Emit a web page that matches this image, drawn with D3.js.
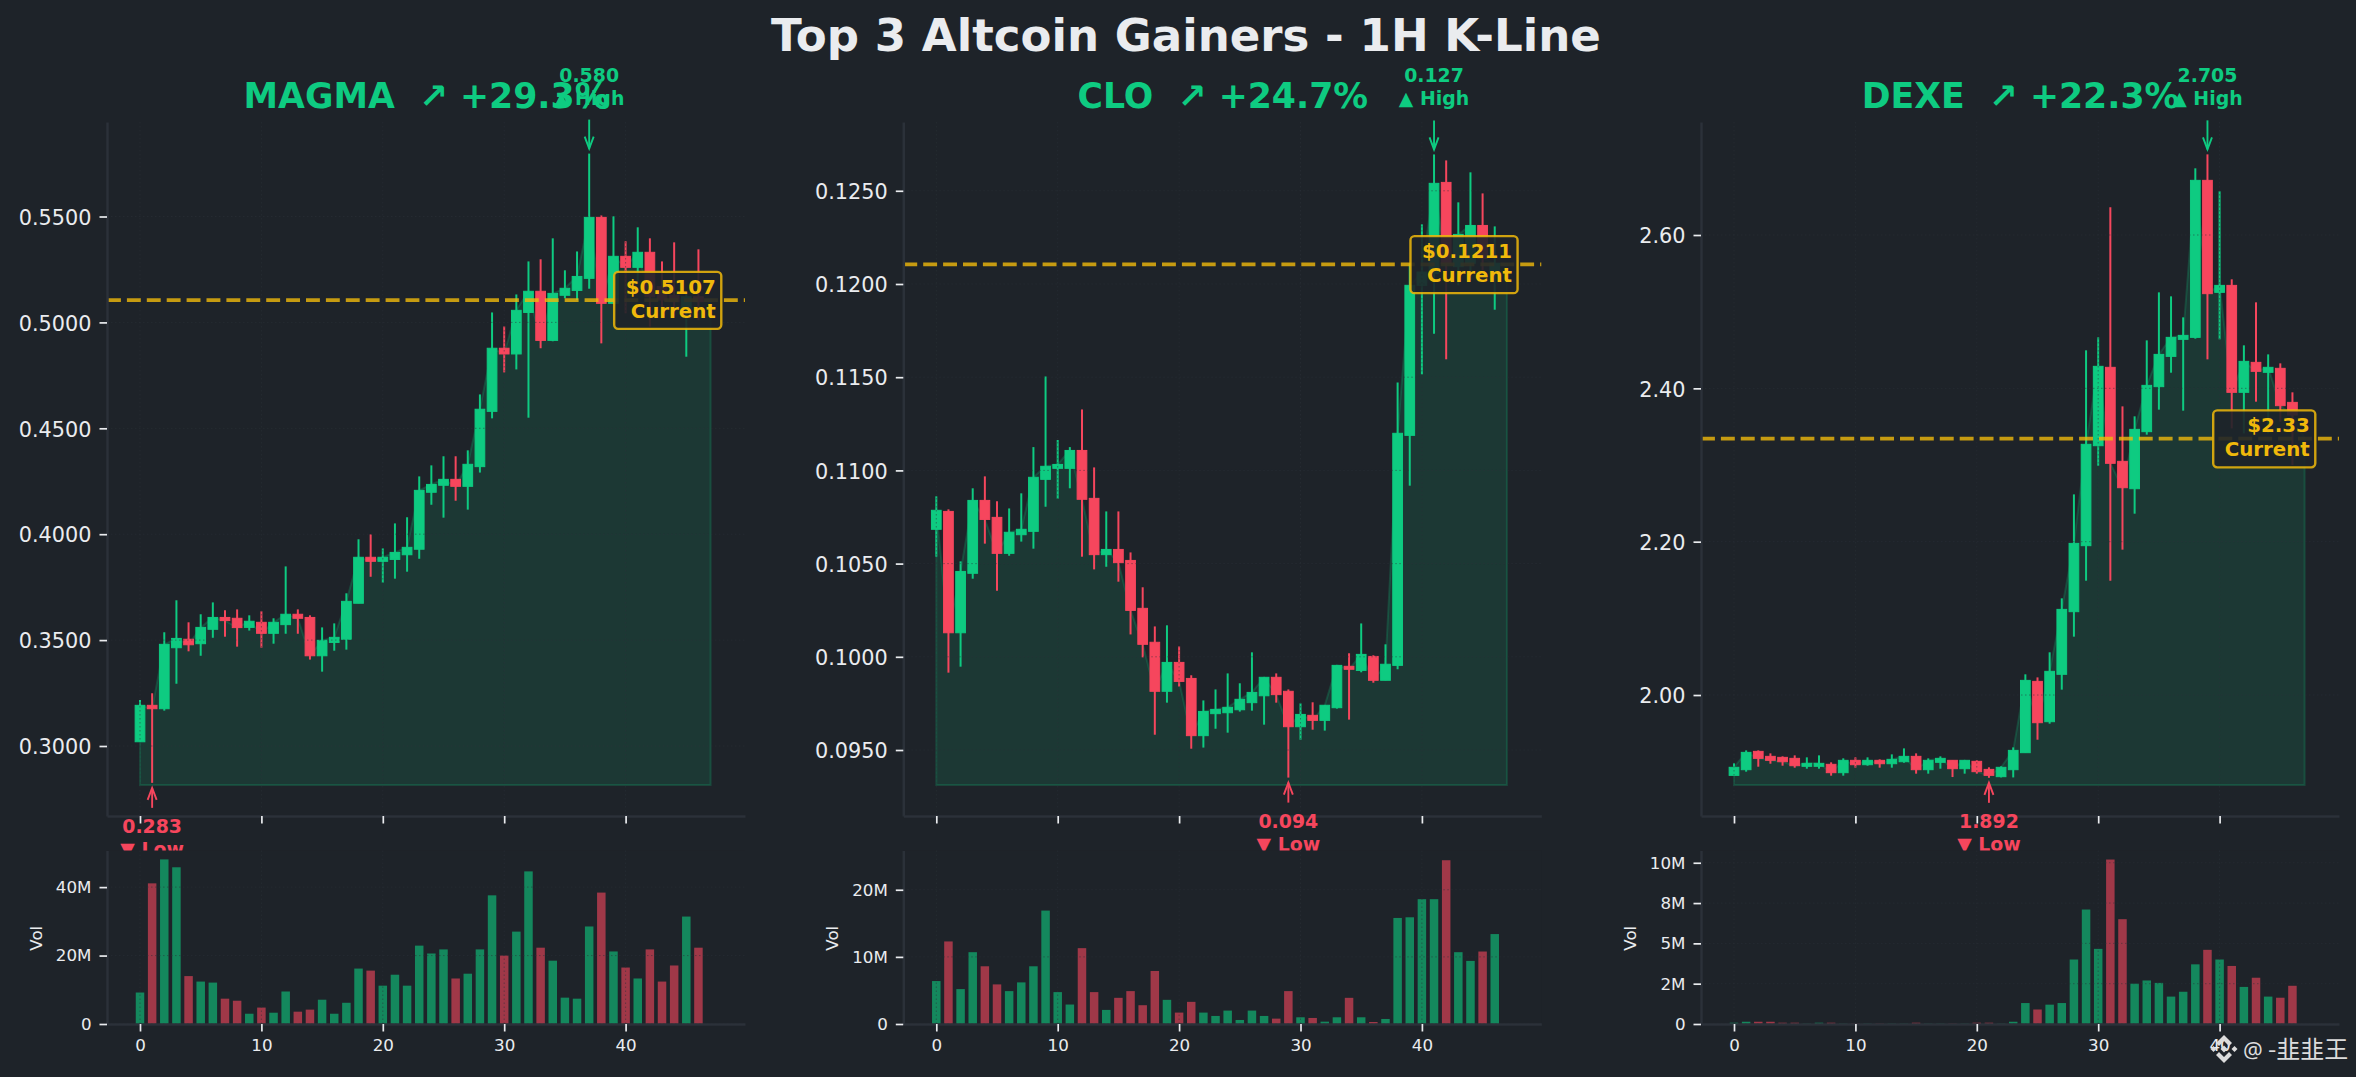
<!DOCTYPE html>
<html>
<head>
<meta charset="utf-8">
<script src="https://d3js.org/d3.v7.min.js"></script>
<style>
  html, body { margin: 0; padding: 0; background: #1e2329; overflow: hidden; }
  svg { display: block; font-family: "DejaVu Sans", sans-serif; }
</style>
</head>
<body>
<script>
// MAGMA candles
const magmaOpen = [.3020,.3192,.3176,.3464,.3504,.3483,.3551,.3607,.3603,.3560,.3584,.3532,.3573,.3622,.3607,.3426,.3489,.3504,.3674,.3891,.3872,.3881,.3903,.3929,.4198,.4231,.4259,.4226,.4319,.4580,.4878,.4851,.5047,.5147,.4915,.5128,.5151,.5208,.5496,.5090,.5312,.5260,.5331,.5169,.5128,.5066,.5121];
const magmaHigh = [.3217,.3249,.3537,.3688,.3584,.3622,.3678,.3641,.3645,.3617,.3636,.3603,.3848,.3645,.3617,.3560,.3579,.3721,.3976,.3999,.3933,.4051,.4080,.4273,.4325,.4368,.4368,.4396,.4660,.5047,.4981,.5132,.5288,.5298,.5397,.5246,.5335,.5797,.5505,.5501,.5383,.5449,.5397,.5288,.5378,.5137,.5345];
const magmaLow = [.3020,.2826,.3167,.3294,.3447,.3426,.3511,.3516,.3469,.3545,.3464,.3483,.3530,.3530,.3408,.3351,.3450,.3455,.3674,.3799,.3771,.3790,.3823,.3884,.4139,.4078,.4158,.4116,.4291,.4547,.4764,.4778,.4550,.4878,.4911,.5114,.5106,.5159,.4901,.5090,.5043,.5184,.4980,.5043,.5027,.4838,.5011];
const magmaClose = [.3192,.3176,.3480,.3508,.3478,.3560,.3607,.3592,.3559,.3589,.3532,.3584,.3622,.3603,.3426,.3499,.3513,.3683,.3891,.3872,.3891,.3914,.3938,.4207,.4235,.4259,.4226,.4330,.4590,.4878,.4851,.5057,.5147,.4915,.5137,.5161,.5217,.5496,.5090,.5312,.5260,.5331,.5121,.5106,.5098,.5121,.5098];
const magmaVol = [9.2,41.1,48.1,45.8,14.0,12.4,12.1,7.4,6.8,3.0,4.8,3.3,9.5,3.6,4.2,7.1,3.0,6.2,16.2,15.6,11.2,14.4,11.2,22.9,20.6,21.8,13.3,14.7,21.8,37.6,20.0,27.0,44.6,22.3,18.5,7.7,7.4,28.5,38.4,21.2,16.5,13.3,21.8,12.4,17.1,31.4,22.3];

// CLO candles
const cloOpen = [.10684,.10780,.10129,.10448,.10839,.10748,.10555,.10655,.10673,.10952,.11011,.11011,.11107,.10850,.10548,.10576,.10517,.10260,.10078,.09815,.09970,.09884,.09577,.09695,.09700,.09716,.09754,.09791,.09890,.09815,.09625,.09686,.09659,.09727,.09949,.09927,.10002,.09874,.09954,.11188,.11993,.12057,.12545,.12093,.12111,.12314,.12057];
const cloHigh = [.10861,.10791,.10512,.10904,.10968,.10834,.10796,.10877,.11125,.11504,.11163,.11125,.11327,.11016,.10780,.10780,.10560,.10373,.10163,.10169,.10056,.09901,.09766,.09825,.09911,.09858,.10024,.09890,.09911,.09825,.09750,.09756,.09740,.09954,.10019,.10179,.10008,.10067,.11472,.12111,.12320,.12695,.12663,.12438,.12599,.12486,.12309];
const cloLow = [.10537,.09915,.09947,.10419,.10607,.10355,.10542,.10618,.10580,.10805,.10848,.10904,.10537,.10469,.10483,.10403,.10120,.09997,.09582,.09754,.09840,.09507,.09513,.09614,.09593,.09706,.09711,.09636,.09754,.09352,.09555,.09609,.09604,.09722,.09663,.09917,.09861,.09874,.09933,.10918,.11515,.11733,.11596,.11993,.12021,.12075,.11862];
const cloClose = [.10786,.10129,.10458,.10839,.10737,.10555,.10668,.10684,.10963,.11022,.11032,.11107,.10845,.10548,.10576,.10505,.10249,.10067,.09815,.09970,.09868,.09577,.09707,.09718,.09729,.09772,.09809,.09890,.09797,.09625,.09691,.09659,.09740,.09954,.09933,.10013,.09874,.09960,.11199,.11993,.12064,.12540,.12111,.12266,.12314,.12137,.12111];
const cloVol = [6.4,12.3,5.2,10.7,8.6,5.9,4.9,6.2,8.6,16.9,4.75,2.9,11.3,4.75,2.1,3.9,4.9,2.8,7.9,3.6,1.7,3.3,1.7,1.2,2.0,0.6,2.0,1.2,0.8,4.9,1.0,0.9,0.35,1.0,3.9,1.0,0.3,0.75,15.8,15.9,18.6,18.6,24.4,10.7,9.4,10.8,13.4];

// DEXE candles
const dexeOpen = [1.8952,1.9026,1.9265,1.9200,1.9187,1.9174,1.9070,1.9070,1.9096,1.8987,1.9148,1.9091,1.9148,1.9104,1.9130,1.9200,1.9026,1.9122,1.9148,1.9039,1.9135,1.9030,1.8935,1.9026,1.9248,2.0178,1.9652,2.0270,2.1087,2.1948,2.3252,2.4274,2.3048,2.2691,2.3435,2.4022,2.4417,2.4639,2.4665,2.6713,2.5252,2.5343,2.3948,2.4339,2.4209,2.4261,2.3817];
const dexeHigh = [1.9109,1.9278,1.9278,1.9239,1.9200,1.9213,1.9187,1.9213,1.9122,1.9174,1.9187,1.9187,1.9161,1.9226,1.9304,1.9239,1.9174,1.9200,1.9148,1.9148,1.9148,1.9057,1.9070,1.9317,2.0270,2.0230,2.0557,2.1261,2.2617,2.4496,2.4665,2.6361,2.3765,2.3635,2.4626,2.5252,2.5200,2.4926,2.6870,2.7052,2.6570,2.5422,2.4561,2.5122,2.4443,2.4326,2.3948];
const dexeLow = [1.8952,1.9000,1.9065,1.9104,1.9078,1.9052,1.9039,1.9039,1.8948,1.8948,1.9052,1.9078,1.9052,1.9052,1.9117,1.8974,1.8974,1.9039,1.8930,1.8974,1.8974,1.8920,1.8925,1.8925,1.9248,1.9417,1.9626,2.0070,2.0761,2.1491,2.2991,2.1491,2.1896,2.2365,2.3396,2.3722,2.4204,2.3709,2.4648,2.4378,2.4639,2.3478,2.3413,2.3826,2.3413,2.3565,2.3000];
const dexeClose = [1.9057,1.9252,1.9174,1.9148,1.9130,1.9078,1.9109,1.9109,1.8987,1.9148,1.9091,1.9148,1.9104,1.9161,1.9200,1.9026,1.9148,1.9174,1.9039,1.9148,1.9000,1.8952,1.9057,1.9278,2.0191,1.9639,2.0309,2.1117,2.1978,2.3270,2.4287,2.3022,2.2704,2.3465,2.4039,2.4443,2.4665,2.4691,2.6713,2.5235,2.5343,2.3948,2.4352,2.4222,2.4274,2.3774,2.3652];
const dexeVol = [0.08,0.14,0.14,0.14,0.08,0.08,0.02,0.08,0.08,0.02,0.02,0.02,0.02,0.02,0.02,0.08,0.02,0.02,0.02,0.02,0.08,0.08,0.02,0.14,1.3,0.9,1.2,1.3,4.0,7.1,4.66,10.2,6.5,2.5,2.7,2.55,1.7,2.0,3.7,4.6,4.0,3.6,2.3,2.87,1.7,1.63,2.37];

const symbols = ["MAGMA", "CLO", "DEXE"];
const gains = ["+29.3%", "+24.7%", "+22.3%"];
const currents = [0.5107, 0.12107, 2.3349];
const currentLabels = ["$0.5107", "$0.1211", "$2.33"];
const highIndex = [37, 41, 39];
const lowIndex = [1, 29, 21];
const fillFloors = [0.2816, 0.09312, 1.8826];

const priceDomains = [[0.26695, 0.59462], [0.09146, 0.12869], [1.8422, 2.7474]];
const priceTicks = [[0.30, 0.35, 0.40, 0.45, 0.50, 0.55], [0.095, 0.100, 0.105, 0.110, 0.115, 0.120, 0.125], [2.00, 2.20, 2.40, 2.60]];
const priceDecimals = [4, 4, 2];
const volMax = [50.7, 25.85, 10.76];
const volTicks = [[0, 20, 40], [0, 10, 20], [0, 2.5, 5, 7.5, 10]];
const volTickLabels = [["0", "20M", "40M"], ["0", "10M", "20M"], ["0", "2M", "5M", "8M", "10M"]];
const xTicks = [0, 10, 20, 30, 40];

const opens = [magmaOpen, cloOpen, dexeOpen];
const highs = [magmaHigh, cloHigh, dexeHigh];
const lows = [magmaLow, cloLow, dexeLow];
const closes = [magmaClose, cloClose, dexeClose];
const vols = [magmaVol, cloVol, dexeVol];

const BG = "#1e2329", GREEN = "#0ecb81", RED = "#f6465d", GOLD = "#f0b90b", SPINE = "#2b3139", INK = "#eaecef";

const panelLeft = [107, 903.3, 1701];
const panelWidth = 638;
const mainTop = 122, mainBottom = 816, volTop = 850.5, volBottom = 1024;
const xMin = -33 / 12.14, xMax = xMin + panelWidth / 12.14;

const svg = d3.select("body").append("svg").attr("width", 2356).attr("height", 1077);
svg.append("rect").attr("width", 2356).attr("height", 1077).attr("fill", BG);

svg.append("text")
  .attr("x", 1186).attr("y", 51)
  .attr("text-anchor", "middle")
  .attr("font-size", 45.1).attr("font-weight", "bold").attr("fill", INK)
  .text("Top 3 Altcoin Gainers - 1H K-Line");

function styleAxis(g, size) {
  g.select(".domain").attr("stroke", SPINE).attr("stroke-width", 2.5);
  g.selectAll(".tick line").attr("stroke", INK).attr("stroke-width", 1.7);
  g.selectAll(".tick text").attr("fill", INK).attr("font-size", size).attr("font-family", "DejaVu Sans");
}

function arrow(g, x, y0, y1, color) {
  // y1 is the tip
  const dir = y1 > y0 ? -1 : 1;
  g.append("line").attr("x1", x).attr("x2", x).attr("y1", y0).attr("y2", y1).attr("stroke", color).attr("stroke-width", 1.9);
  g.append("path")
    .attr("d", d3.line()([[x - 4.5, y1 + dir * 12], [x, y1], [x + 4.5, y1 + dir * 12]]))
    .attr("fill", "none").attr("stroke", color).attr("stroke-width", 1.9);
}

symbols.forEach((sym, p) => {
  const left = panelLeft[p], right = left + panelWidth;
  const x = d3.scaleLinear().domain([xMin, xMax]).range([left, right]);
  const y = d3.scaleLinear().domain(priceDomains[p]).range([mainBottom, mainTop]);
  const yv = d3.scaleLinear().domain([0, volMax[p]]).range([volBottom, volTop]);

  const candles = d3.range(opens[p].length).map(i => ({
    i, o: opens[p][i], h: highs[p][i], l: lows[p][i], c: closes[p][i], v: vols[p][i]
  }));
  const tone = d => d.c >= d.o ? GREEN : RED;
  const main = svg.append("g");

  // shaded area under closes, runs on to the live price
  const fillPts = closes[p].concat([currents[p]]);
  main.append("path")
    .datum(fillPts)
    .attr("d", d3.area().x((d, i) => x(i)).y0(y(fillFloors[p])).y1(d => y(d)))
    .attr("fill", GREEN).attr("fill-opacity", 0.13)
    .attr("stroke", GREEN).attr("stroke-opacity", 0.2).attr("stroke-width", 2);

  main.selectAll("line.wick").data(candles).join("line").attr("class", "wick")
    .attr("x1", d => x(d.i)).attr("x2", d => x(d.i))
    .attr("y1", d => y(d.h)).attr("y2", d => y(d.l))
    .attr("stroke", tone).attr("stroke-width", 2);

  const bodyW = x(0.8) - x(0);
  main.selectAll("rect.body").data(candles).join("rect").attr("class", "body")
    .attr("x", d => x(d.i) - bodyW / 2).attr("width", bodyW)
    .attr("y", d => y(Math.max(d.o, d.c)))
    .attr("height", d => Math.abs(y(d.o) - y(d.c)))
    .attr("fill", tone).attr("stroke", tone).attr("stroke-width", 1);

  // faint dotted grid, sits over the candles
  const grid = main.append("g").attr("stroke", SPINE).attr("stroke-opacity", 0.5).attr("stroke-dasharray", "1.5 2.5").attr("stroke-width", 1);
  grid.selectAll("line.gx").data(xTicks).join("line").attr("x1", x).attr("x2", x).attr("y1", mainTop).attr("y2", mainBottom);
  grid.selectAll("line.gy").data(priceTicks[p]).join("line").attr("x1", left).attr("x2", right).attr("y1", y).attr("y2", y);

  main.append("line")
    .attr("x1", left).attr("x2", right).attr("y1", y(currents[p]) + 0.4).attr("y2", y(currents[p]) + 0.4)
    .attr("stroke", GOLD).attr("stroke-opacity", 0.8).attr("stroke-width", 3.7).attr("stroke-dasharray", "13.9 6");

  const yAxis = main.append("g").attr("transform", `translate(${left},0)`)
    .call(d3.axisLeft(y).tickValues(priceTicks[p]).tickFormat(d => d.toFixed(priceDecimals[p])).tickSize(7.5).tickPadding(8).tickSizeOuter(0));
  styleAxis(yAxis, 20.8);
  yAxis.selectAll(".tick text").attr("dy", "0.37em");
  const xAxis = main.append("g").attr("transform", `translate(0,${mainBottom})`)
    .call(d3.axisBottom(x).tickValues(xTicks).tickFormat("").tickSize(7.5).tickSizeOuter(0));
  styleAxis(xAxis, 16.7);

  svg.append("text")
    .attr("x", (left + right) / 2 + 0.5).attr("y", 108)
    .attr("text-anchor", "middle").attr("font-size", 34.7).attr("font-weight", "bold")
    .attr("fill", GREEN).style("white-space", "pre")
    .text(`${sym}  \u2197 ${gains[p]}`);

  // high / low callouts
  const hi = highIndex[p], lo = lowIndex[p];
  const yHi = y(highs[p][hi]), yLo = y(lows[p][lo]);
  arrow(svg, x(hi), yHi - 34, yHi - 5, GREEN);
  svg.append("text").attr("x", x(hi)).attr("y", yHi - 72).attr("text-anchor", "middle")
    .attr("font-size", 18.9).attr("font-weight", "bold").attr("fill", GREEN).text(highs[p][hi].toFixed(3));
  svg.append("text").attr("x", x(hi)).attr("y", yHi - 49).attr("text-anchor", "middle")
    .attr("font-size", 18.9).attr("font-weight", "bold").attr("fill", GREEN).text("\u25B2 High");

  arrow(svg, x(lo), yLo + 25, yLo + 5, RED);
  svg.append("text").attr("x", x(lo)).attr("y", yLo + 50.5).attr("text-anchor", "middle")
    .attr("font-size", 18.9).attr("font-weight", "bold").attr("fill", RED).text(lows[p][lo].toFixed(3));
  svg.append("text").attr("x", x(lo)).attr("y", yLo + 73.5).attr("text-anchor", "middle")
    .attr("font-size", 18.9).attr("font-weight", "bold").attr("fill", RED).text("\u25BC Low");

  // current price tag
  const tag = svg.append("g");
  const tagRight = x(47) + 10.7, tagMid = y(currents[p]) + 0.6;
  const box = tag.append("rect").attr("fill", BG).attr("fill-opacity", 0.9).attr("stroke", GOLD).attr("stroke-opacity", 0.85).attr("stroke-width", 2.4).attr("rx", 4);
  const t1 = tag.append("text").attr("x", tagRight - 5.5).attr("y", tagMid - 6.5).attr("text-anchor", "end")
    .attr("font-size", 19.8).attr("font-weight", "bold").attr("fill", GOLD).text(currentLabels[p]);
  const t2 = tag.append("text").attr("x", tagRight - 5.5).attr("y", tagMid + 17.5).attr("text-anchor", "end")
    .attr("font-size", 19.8).attr("font-weight", "bold").attr("fill", GOLD).text("Current");
  const tagW = Math.max(t1.node().getComputedTextLength(), t2.node().getComputedTextLength()) + 17;
  box.attr("x", tagRight - tagW).attr("width", tagW).attr("y", tagMid - 28.5).attr("height", 57);

  // volume pane, its background cuts off the Low text
  const vol = svg.append("g");
  vol.append("rect").attr("x", left).attr("y", volTop).attr("width", panelWidth).attr("height", volBottom - volTop).attr("fill", BG);
  const barW = x(0.7) - x(0);
  vol.selectAll("rect.bar").data(candles).join("rect").attr("class", "bar")
    .attr("x", d => x(d.i) - barW / 2).attr("width", barW)
    .attr("y", d => yv(d.v)).attr("height", d => yv(0) - yv(d.v))
    .attr("fill", tone).attr("fill-opacity", 0.6);

  const vgrid = vol.append("g").attr("stroke", SPINE).attr("stroke-opacity", 0.5).attr("stroke-dasharray", "1.5 2.5").attr("stroke-width", 1);
  vgrid.selectAll("line.gx").data(xTicks).join("line").attr("x1", x).attr("x2", x).attr("y1", volTop).attr("y2", volBottom);
  vgrid.selectAll("line.gy").data(volTicks[p]).join("line").attr("x1", left).attr("x2", right).attr("y1", yv).attr("y2", yv);

  const vyAxis = vol.append("g").attr("transform", `translate(${left},0)`)
    .call(d3.axisLeft(yv).tickValues(volTicks[p]).tickFormat((d, i) => volTickLabels[p][i]).tickSize(7.5).tickPadding(8).tickSizeOuter(0));
  styleAxis(vyAxis, 16.7);
  const vxAxis = vol.append("g").attr("transform", `translate(0,${volBottom})`)
    .call(d3.axisBottom(x).tickValues(xTicks).tickFormat(d3.format("d")).tickSize(7.5).tickPadding(8).tickSizeOuter(0));
  styleAxis(vxAxis, 16.7);

  vol.append("text")
    .attr("transform", `translate(${left - 65},${(volTop + volBottom) / 2 + 1}) rotate(-90)`)
    .attr("text-anchor", "middle").attr("font-size", 16.7).attr("fill", INK).text("Vol");
});

// watermark
const mark = svg.append("g").attr("fill", "#dcdcdc");
const logo = mark.append("g").attr("transform", "translate(2224,1049)");
logo.append("path").attr("d", "M0,-14L8,-6L5,-3L0,-8L-5,-3L-8,-6Z");
logo.append("path").attr("d", "M0,14L8,6L5,3L0,8L-5,3L-8,6Z");
logo.append("path").attr("d", "M0,-3.5L3.5,0L0,3.5L-3.5,0Z");
logo.append("path").attr("d", "M-10.5,-3L-7.5,0L-10.5,3L-13.5,0Z");
logo.append("path").attr("d", "M10.5,-3L13.5,0L10.5,3L7.5,0Z");
mark.append("text").attr("x", 2243).attr("y", 1058).attr("font-size", 22).attr("font-family", "Noto Sans").text("@");
mark.append("text").attr("x", 2268).attr("y", 1058).attr("font-size", 24).attr("font-family", "Noto Sans CJK SC").text("-\u97ED\u97ED\u738B");
</script>
</body>
</html>
